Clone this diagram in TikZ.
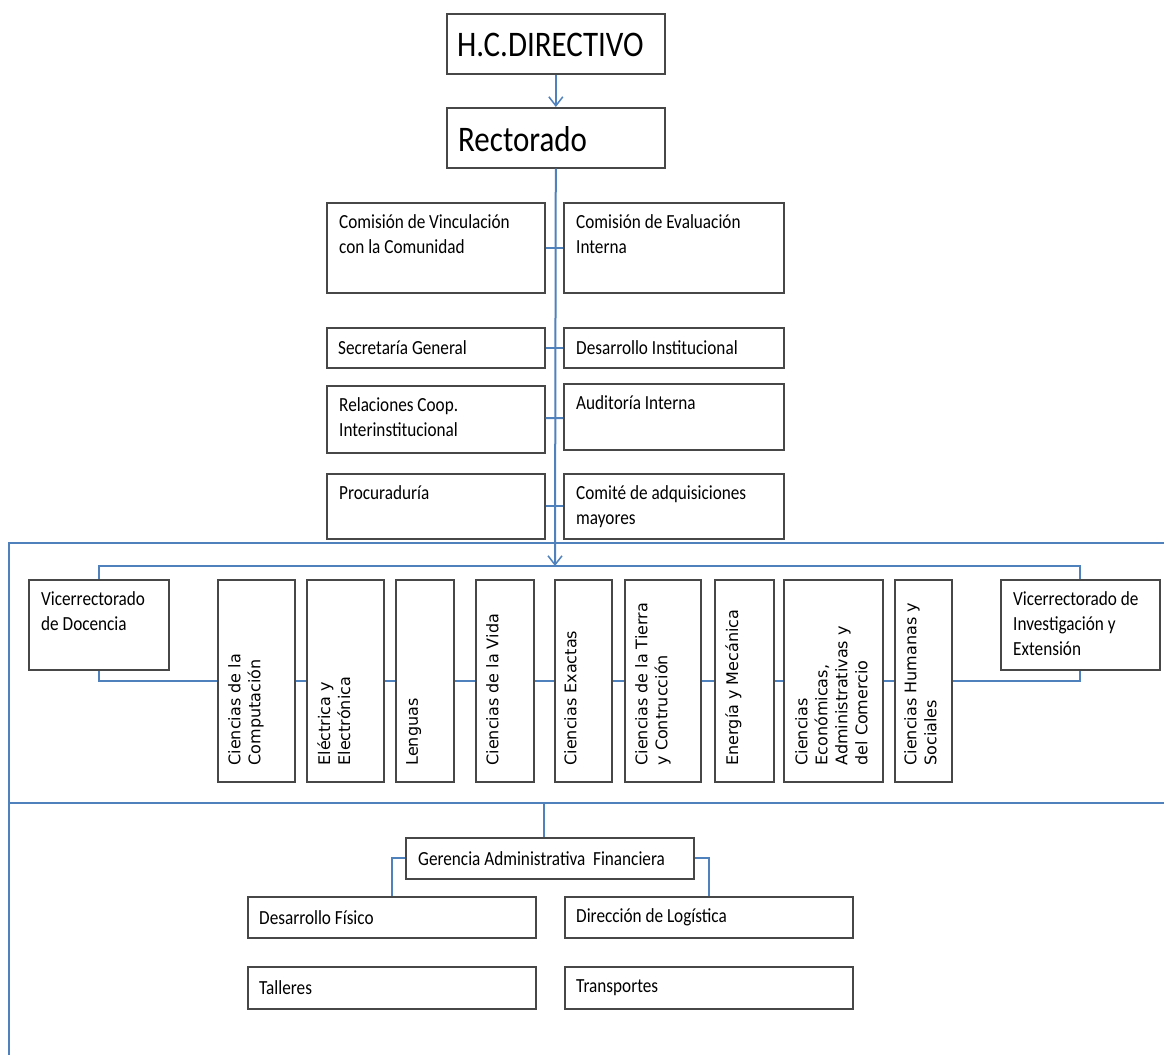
\documentclass[tikz,border=0pt]{standalone}
\usepackage{fontspec}
\usetikzlibrary{arrows.meta,calc,shadows}
\newfontfamily\calibri[FakeStretch=0.86]{Carlito}
\newfontfamily\verdana{DejaVu Sans}
\definecolor{azul}{RGB}{79,129,189}
\tikzset{
  caja/.style={draw=black!72, line width=1.7pt, fill=white, inner sep=0pt, anchor=north west,
    drop shadow={shadow xshift=1pt, shadow yshift=-1pt, fill=black!20, opacity=1}},
  texto/.style={font=\calibri\fontsize{20}{25}\selectfont, align=left, inner sep=0pt},
  titulo/.style={font=\calibri\fontsize{36}{40}\selectfont, inner sep=0pt, anchor=west},
  vtexto/.style={font=\verdana\fontsize{16}{20}\selectfont, align=left, inner sep=0pt, rotate=90, anchor=north west},
  linea/.style={draw=azul, line width=2pt},
  flecha/.style={linea, -{Straight Barb[length=9pt,width=14pt,line width=1.5pt]}}
}
\begin{document}
\begin{tikzpicture}[x=1pt,y=-1pt]
\useasboundingbox[fill=white] (0,0) rectangle (1164,1055);

% direccion
\node[caja, minimum width=218, minimum height=60] (hc) at (446,13) {};
\node[titulo] (hc-t) at ($(hc.west)+(11,1)$) {H.C.DIRECTIVO};
\node[caja, minimum width=218, minimum height=60] (rect) at (446,107) {};
\node[titulo] (rect-t) at ($(rect.west)+(12,1)$) {Rectorado};

% comisiones
\node[caja, minimum width=218, minimum height=90] (vinc) at (326,202) {};
\node[texto, anchor=north west] (vinc-t) at ($(vinc.north west)+(13,12)$) {Comisión de Vinculación\\con la Comunidad};
\node[caja, minimum width=220, minimum height=90] (eval) at (563,202) {};
\node[texto, anchor=north west] (eval-t) at ($(eval.north west)+(13,12)$) {Comisión de Evaluación\\Interna};
\node[caja, minimum width=218, minimum height=40] (secg) at (326,327) {};
\node[texto, anchor=west] (secg-t) at ($(secg.west)+(12,0)$) {Secretaría General};
\node[caja, minimum width=220, minimum height=40] (desi) at (563,327) {};
\node[texto, anchor=west] (desi-t) at ($(desi.west)+(13,0)$) {Desarrollo Institucional};
\node[caja, minimum width=218, minimum height=67] (rela) at (326,385) {};
\node[texto, anchor=north west] (rela-t) at ($(rela.north west)+(13,12)$) {Relaciones Coop.\\Interinstitucional};
\node[caja, minimum width=220, minimum height=66] (audi) at (563,383) {};
\node[texto, anchor=north west] (audi-t) at ($(audi.north west)+(13,12)$) {Auditoría Interna};
\node[caja, minimum width=218, minimum height=65] (proc) at (326,473) {};
\node[texto, anchor=north west] (proc-t) at ($(proc.north west)+(13,12)$) {Procuraduría};
\node[caja, minimum width=220, minimum height=65] (comi) at (563,473) {};
\node[texto, anchor=north west] (comi-t) at ($(comi.north west)+(13,12)$) {Comité de adquisiciones\\mayores};

% vicerrectorados
\node[caja, minimum width=140, minimum height=90] (vdoc) at (28,579) {};
\node[texto, anchor=north west] (vdoc-t) at ($(vdoc.north west)+(13,12)$) {Vicerrectorado\\de Docencia};
\node[caja, minimum width=159, minimum height=90] (vinv) at (1000,579) {};
\node[texto, anchor=north west] (vinv-t) at ($(vinv.north west)+(13,12)$) {Vicerrectorado de\\Investigación y\\Extensión};

% departamentos
\node[caja, minimum width=77, minimum height=202] (comp) at (217,579) {};
\node[vtexto] (comp-t) at ($(comp.south west)+(11,-17)$) {Ciencias de la\\Computación};
\node[caja, minimum width=77, minimum height=202] (elec) at (306,579) {};
\node[vtexto] (elec-t) at ($(elec.south west)+(11,-17)$) {Eléctrica y\\Electrónica};
\node[caja, minimum width=58, minimum height=202] (leng) at (395,579) {};
\node[vtexto] (leng-t) at ($(leng.south west)+(11,-17)$) {Lenguas};
\node[caja, minimum width=58, minimum height=202] (vida) at (475,579) {};
\node[vtexto] (vida-t) at ($(vida.south west)+(11,-17)$) {Ciencias de la Vida};
\node[caja, minimum width=57, minimum height=202] (exac) at (554,579) {};
\node[vtexto] (exac-t) at ($(exac.south west)+(10,-17)$) {Ciencias Exactas};
\node[caja, minimum width=76, minimum height=202] (tier) at (624,579) {};
\node[vtexto] (tier-t) at ($(tier.south west)+(11,-17)$) {Ciencias de la Tierra\\y Contrucción};
\node[caja, minimum width=59, minimum height=202] (ener) at (714,579) {};
\node[vtexto] (ener-t) at ($(ener.south west)+(11,-17)$) {Energía y Mecánica};
\node[caja, minimum width=99, minimum height=202] (econ) at (783,579) {};
\node[vtexto] (econ-t) at ($(econ.south west)+(12,-17)$) {Ciencias\\Económicas,\\Administrativas y\\del Comercio};
\node[caja, minimum width=57, minimum height=202] (hum) at (894,579) {};
\node[vtexto] (hum-t) at ($(hum.south west)+(10,-17)$) {Ciencias Humanas y\\Sociales};

% gerencia
\node[caja, minimum width=288, minimum height=41] (ger) at (405,837) {};
\node[texto, anchor=west] (ger-t) at ($(ger.west)+(13,0)$) {Gerencia Administrativa\ \ Financiera};
\node[caja, minimum width=288, minimum height=41] (dfis) at (247,896) {};
\node[texto, anchor=west] (dfis-t) at ($(dfis.west)+(12,0)$) {Desarrollo Físico};
\node[caja, minimum width=288, minimum height=41] (dlog) at (564,896) {};
\node[texto, anchor=west] (dlog-t) at ($(dlog.west)+(12,0)$) {Dirección de Logística};
\node[caja, minimum width=288, minimum height=42] (tall) at (247,966) {};
\node[texto, anchor=west] (tall-t) at ($(tall.west)+(12,0)$) {Talleres};
\node[caja, minimum width=288, minimum height=42] (trans) at (564,966) {};
\node[texto, anchor=west] (trans-t) at ($(trans.west)+(12,0)$) {Transportes};

% marco
\draw[linea] (1164,543) -- (9,543) -- (9,1055);
\draw[linea] (9,803) -- (1164,803);

% conectores
\coordinate (reparto) at (555,566);
\coordinate (baja) at (544,803);
\draw[flecha] (hc) -- (rect);
\draw[flecha] (rect) -- (reparto);
\draw[linea] (vinc) -- (eval);
\draw[linea] (secg) -- (desi);
\draw[linea] (rela) -- (audi);
\draw[linea] (proc) -- (comi);
\draw[linea] (vdoc.north) -- ++(0,-13) -| (vinv.north);
\draw[linea] (vdoc.south) |- (comp.west);
\draw[linea] (comp) -- (elec);
\draw[linea] (elec) -- (leng);
\draw[linea] (leng) -- (vida);
\draw[linea] (vida) -- (exac);
\draw[linea] (exac) -- (tier);
\draw[linea] (tier) -- (ener);
\draw[linea] (ener) -- (econ);
\draw[linea] (econ) -- (hum);
\draw[linea] (hum.east) -| (vinv.south);
\draw[linea] (baja) -- (baja |- ger.north);
\draw[linea] (ger.west) -| (dfis.north);
\draw[linea] (ger.east) -| (dlog.north);
\end{tikzpicture}
\end{document}
